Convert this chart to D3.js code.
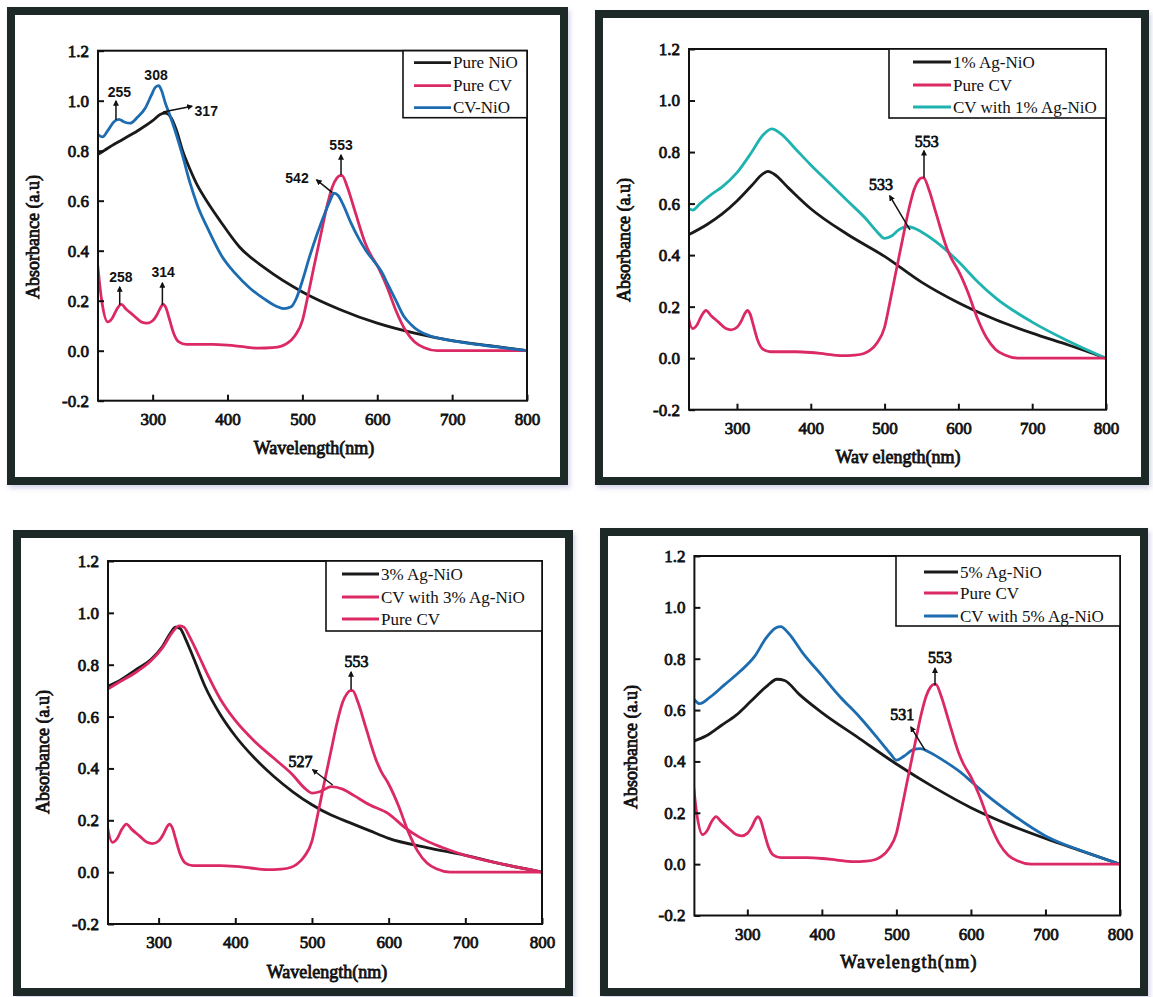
<!DOCTYPE html>
<html>
<head>
<meta charset="utf-8">
<script src="https://cdn.jsdelivr.net/npm/d3@7"></script>
<style>
  html, body { margin: 0; padding: 0; background: #ffffff; }
  svg { display: block; }
</style>
</head>
<body>
<svg id="chart" width="1153" height="997"></svg>
<script>
// ---- UV-Vis absorbance spectra (wavelength in nm, absorbance in a.u.) ----

// Crystal violet dye alone (shown in every panel)
const pureCVWavelength = [226, 232, 240, 246, 252, 258, 265, 275, 285, 292, 300, 306, 311, 314, 318, 322, 328, 335, 345, 360, 380, 400, 420, 441, 460, 472, 480, 490, 500, 506, 515, 525, 533, 540, 546, 550, 553, 560, 570, 584, 590, 600, 613, 625, 638, 650, 663, 680, 720, 760, 800];
const pureCVAbsorbance = [0.36, 0.20, 0.115, 0.13, 0.165, 0.185, 0.165, 0.14, 0.115, 0.11, 0.12, 0.145, 0.175, 0.185, 0.17, 0.13, 0.07, 0.035, 0.025, 0.025, 0.025, 0.022, 0.016, 0.01, 0.012, 0.018, 0.03, 0.06, 0.12, 0.20, 0.33, 0.47, 0.58, 0.655, 0.69, 0.70, 0.70, 0.655, 0.56, 0.43, 0.39, 0.34, 0.255, 0.16, 0.08, 0.035, 0.012, 0.0, 0.0, 0.0, 0.0];

// Panel (a): pure NiO and CV adsorbed on NiO
const pureNiOWavelength = [227, 240, 260, 280, 300, 310, 317, 325, 332, 340, 350, 360, 372, 390, 416, 450, 500, 550, 600, 650, 700, 750, 800];
const pureNiOAbsorbance = [0.785, 0.81, 0.845, 0.88, 0.92, 0.945, 0.95, 0.93, 0.88, 0.80, 0.725, 0.66, 0.60, 0.52, 0.415, 0.33, 0.235, 0.165, 0.11, 0.07, 0.04, 0.02, 0.0];
const cvNiOWavelength = [227, 233, 240, 248, 255, 262, 270, 280, 290, 298, 304, 308, 312, 317, 322, 330, 340, 350, 360, 375, 392, 410, 430, 450, 465, 475, 485, 492, 500, 510, 520, 530, 537, 542, 548, 555, 565, 575, 585, 595, 605, 615, 625, 635, 645, 655, 670, 690, 720, 760, 800];
const cvNiOAbsorbance = [0.865, 0.855, 0.88, 0.915, 0.925, 0.915, 0.91, 0.935, 0.97, 1.02, 1.055, 1.06, 1.04, 0.99, 0.95, 0.88, 0.78, 0.67, 0.58, 0.48, 0.38, 0.31, 0.25, 0.205, 0.178, 0.168, 0.176, 0.21, 0.28, 0.38, 0.47, 0.55, 0.60, 0.63, 0.62, 0.58, 0.51, 0.45, 0.40, 0.36, 0.32, 0.26, 0.20, 0.14, 0.105, 0.08, 0.06, 0.045, 0.03, 0.015, 0.0];

// Panel (b): 1% Ag-NiO
const agNiO1Wavelength = [235, 260, 280, 300, 320, 335, 342, 350, 370, 400, 450, 500, 550, 600, 650, 700, 750, 800];
const agNiO1Absorbance = [0.48, 0.52, 0.56, 0.61, 0.67, 0.715, 0.725, 0.715, 0.66, 0.58, 0.48, 0.395, 0.295, 0.215, 0.15, 0.097, 0.05, 0.0];
const cvAgNiO1Wavelength = [235, 240, 250, 265, 280, 300, 320, 335, 347, 360, 380, 400, 425, 450, 475, 490, 500, 510, 520, 530, 540, 550, 575, 600, 625, 650, 700, 750, 800];
const cvAgNiO1Absorbance = [0.58, 0.575, 0.60, 0.635, 0.665, 0.72, 0.80, 0.865, 0.89, 0.87, 0.81, 0.75, 0.68, 0.61, 0.54, 0.49, 0.465, 0.475, 0.50, 0.51, 0.505, 0.49, 0.44, 0.375, 0.30, 0.235, 0.14, 0.065, 0.0];

// Panel (c): 3% Ag-NiO
const agNiO3Wavelength = [233, 250, 270, 290, 305, 315, 322, 328, 335, 345, 360, 380, 400, 425, 450, 475, 500, 525, 550, 575, 600, 650, 700, 750, 800];
const agNiO3Absorbance = [0.715, 0.74, 0.78, 0.82, 0.87, 0.92, 0.945, 0.94, 0.90, 0.83, 0.72, 0.61, 0.525, 0.44, 0.37, 0.31, 0.26, 0.22, 0.19, 0.16, 0.13, 0.095, 0.065, 0.03, 0.0];
const cvAgNiO3Wavelength = [233, 250, 270, 290, 305, 318, 327, 333, 340, 350, 365, 380, 400, 425, 450, 475, 490, 500, 510, 525, 540, 555, 575, 600, 620, 640, 670, 700, 750, 800];
const cvAgNiO3Absorbance = [0.705, 0.735, 0.77, 0.815, 0.865, 0.925, 0.95, 0.945, 0.91, 0.85, 0.755, 0.67, 0.585, 0.505, 0.44, 0.375, 0.325, 0.305, 0.31, 0.33, 0.32, 0.295, 0.26, 0.225, 0.175, 0.135, 0.095, 0.065, 0.03, 0.0];

// Panel (d): 5% Ag-NiO
const agNiO5Wavelength = [229, 245, 265, 285, 305, 325, 340, 350, 370, 400, 450, 500, 550, 600, 650, 700, 750, 800];
const agNiO5Absorbance = [0.48, 0.50, 0.54, 0.58, 0.635, 0.69, 0.72, 0.715, 0.66, 0.59, 0.49, 0.39, 0.30, 0.22, 0.155, 0.10, 0.05, 0.0];
const cvAgNiO5Wavelength = [229, 236, 250, 270, 290, 310, 325, 338, 345, 355, 375, 400, 425, 450, 475, 492, 500, 510, 522, 532, 545, 565, 585, 605, 625, 650, 700, 750, 800];
const cvAgNiO5Absorbance = [0.64, 0.625, 0.65, 0.70, 0.75, 0.81, 0.88, 0.92, 0.925, 0.90, 0.82, 0.735, 0.65, 0.575, 0.49, 0.43, 0.405, 0.42, 0.445, 0.45, 0.435, 0.40, 0.36, 0.31, 0.26, 0.205, 0.11, 0.05, 0.0];

// Axis ticks
const wavelengthTicks = [300, 400, 500, 600, 700, 800];
const absorbanceTicks = [-0.2, 0.0, 0.2, 0.4, 0.6, 0.8, 1.0, 1.2];

// Colours
const BLACK = "#1a1a1a";
const PINK = "#db2a63";
const BLUE = "#1d6cb0";
const TEAL = "#1fb3b0";
const FRAME = "#1d2926";

const zip = (xs, ys) => xs.map((x, i) => [x, ys[i]]);

const panels = [
  {
    frame: [7, 7, 568, 485],
    plot: { left: 98, right: 527, top: 50.7, bottom: 400.7 },
    xStart: 227,
    series: [
      { name: "Pure NiO", color: BLACK, data: zip(pureNiOWavelength, pureNiOAbsorbance) },
      { name: "Pure CV", color: PINK, data: zip(pureCVWavelength, pureCVAbsorbance) },
      { name: "CV-NiO", color: BLUE, data: zip(cvNiOWavelength, cvNiOAbsorbance) }
    ],
    drawOrder: [0, 1, 2],
    legend: { width: 124, height: 67, lineX0: 11, lineX1: 48, textX: 50, rows: [12, 35, 57] },
    yLabel: { x: 33, y: 237 },
    xLabel: { x: 314, y: 454, text: "Wavelength(nm)", spacing: 0 },
    noteFont: "'Liberation Sans', Arial, sans-serif",
    noteBold: true,
    notes: [
      { text: "308", at: [304.5, 1.083] },
      { text: "255", at: [255.7, 1.015], arrow: [[251, 0.923], [251, 0.999]] },
      { text: "317", at: [356, 0.938], anchor: "start", arrow: [[313.8, 0.955], [352.5, 0.978]] },
      { text: "553", at: [551.6, 0.803], arrow: [[551.6, 0.703], [551.6, 0.783]] },
      { text: "542", at: [492.8, 0.671], arrow: [[540, 0.632], [519, 0.683]] },
      { text: "258", at: [257.7, 0.275], arrow: [[256, 0.183], [256, 0.255]] },
      { text: "314", at: [314, 0.295], arrow: [[313, 0.183], [313, 0.271]] }
    ]
  },
  {
    frame: [595, 10, 1149, 485],
    plot: { left: 689, right: 1106, top: 49, bottom: 409.7 },
    xStart: 235,
    series: [
      { name: "1% Ag-NiO", color: BLACK, data: zip(agNiO1Wavelength, agNiO1Absorbance) },
      { name: "Pure CV", color: PINK, data: zip(pureCVWavelength, pureCVAbsorbance) },
      { name: "CV with 1% Ag-NiO", color: TEAL, data: zip(cvAgNiO1Wavelength, cvAgNiO1Absorbance) }
    ],
    drawOrder: [0, 2, 1],
    legend: { width: 217, height: 69, lineX0: 24, lineX1: 62, textX: 64, rows: [13, 36, 58] },
    yLabel: { x: 624, y: 240 },
    xLabel: { x: 898, y: 463, text: "Wav elength(nm)", spacing: 0 },
    noteFont: "'Liberation Serif', 'Times New Roman', serif",
    noteBold: false,
    notes: [
      { text: "553", at: [557, 0.82], arrow: [[553.4, 0.70], [553.4, 0.805]] },
      { text: "533", at: [495, 0.654], arrow: [[534.4, 0.498], [507, 0.63]] }
    ]
  },
  {
    frame: [13, 530, 573, 996],
    plot: { left: 108, right: 542, top: 561, bottom: 924 },
    xStart: 234,
    series: [
      { name: "3% Ag-NiO", color: BLACK, data: zip(agNiO3Wavelength, agNiO3Absorbance) },
      { name: "CV with 3% Ag-NiO", color: PINK, data: zip(cvAgNiO3Wavelength, cvAgNiO3Absorbance) },
      { name: "Pure CV", color: PINK, data: zip(pureCVWavelength, pureCVAbsorbance) }
    ],
    drawOrder: [0, 1, 2],
    legend: { width: 216, height: 70, lineX0: 16, lineX1: 53, textX: 55, rows: [13, 36, 58] },
    yLabel: { x: 42.5, y: 752 },
    xLabel: { x: 327, y: 978, text: "Wavelength(nm)", spacing: 0 },
    noteFont: "'Liberation Serif', 'Times New Roman', serif",
    noteBold: false,
    notes: [
      { text: "553", at: [558, 0.79], arrow: [[551, 0.703], [551, 0.772]] },
      { text: "527", at: [485, 0.405], arrow: [[527, 0.336], [501, 0.395]] }
    ]
  },
  {
    frame: [600, 528, 1148, 996],
    plot: { left: 694.4, right: 1120, top: 556, bottom: 915.5 },
    xStart: 229,
    series: [
      { name: "5% Ag-NiO", color: BLACK, data: zip(agNiO5Wavelength, agNiO5Absorbance) },
      { name: "Pure CV", color: PINK, data: zip(pureCVWavelength, pureCVAbsorbance) },
      { name: "CV with 5% Ag-NiO", color: BLUE, data: zip(cvAgNiO5Wavelength, cvAgNiO5Absorbance) }
    ],
    drawOrder: [0, 2, 1],
    legend: { width: 224, height: 70, lineX0: 28, lineX1: 62, textX: 64, rows: [16, 37, 60] },
    yLabel: { x: 631, y: 747 },
    xLabel: { x: 909, y: 968, text: "Wavelength(nm)", spacing: 1.2 },
    noteFont: "'Liberation Serif', 'Times New Roman', serif",
    noteBold: false,
    notes: [
      { text: "553", at: [558.4, 0.783], arrow: [[551.8, 0.697], [551.8, 0.763]] },
      { text: "531", at: [508, 0.56], arrow: [[538.4, 0.444], [519.5, 0.534]] }
    ]
  }
];

const svg = d3.select("#chart");
const defs = svg.append("defs");

// arrowhead used by the peak annotations
defs.append("marker")
  .attr("id", "arrowhead")
  .attr("viewBox", "0 0 10 10")
  .attr("refX", 8).attr("refY", 5)
  .attr("markerWidth", 6).attr("markerHeight", 6)
  .attr("markerUnits", "userSpaceOnUse")
  .attr("orient", "auto")
  .append("path")
  .attr("d", "M0,0 L10,5 L0,10 Z")
  .attr("fill", "#111");

// soft shadow under each framed panel
const shadow = defs.append("filter").attr("id", "frameShadow")
  .attr("x", "-5%").attr("y", "-5%").attr("width", "110%").attr("height", "110%");
shadow.append("feGaussianBlur").attr("stdDeviation", 2.5);

const serif = "'Liberation Serif', 'Times New Roman', serif";

// heavy serif text: regular serif face thickened with a thin outline
function heavySerif(sel, size) {
  return sel
    .style("font-family", serif)
    .style("font-weight", "normal")
    .style("font-size", size + "px")
    .attr("fill", "#111")
    .attr("stroke", "#111")
    .attr("stroke-width", 0.8)
    .attr("paint-order", "stroke");
}

panels.forEach((p, idx) => {
  const g = svg.append("g");
  const [fx0, fy0, fx1, fy1] = p.frame;
  const fw = 8;

  // frame shadow + frame
  g.append("rect")
    .attr("x", fx0 + fw / 2 + 2).attr("y", fy0 + fw / 2 + 3)
    .attr("width", fx1 - fx0 - fw).attr("height", fy1 - fy0 - fw)
    .attr("fill", "none").attr("stroke", "#b9b6dc").attr("stroke-width", fw)
    .attr("opacity", 0.6)
    .attr("filter", "url(#frameShadow)");
  g.append("rect")
    .attr("x", fx0 + fw / 2).attr("y", fy0 + fw / 2)
    .attr("width", fx1 - fx0 - fw).attr("height", fy1 - fy0 - fw)
    .attr("fill", "#ffffff").attr("stroke", FRAME).attr("stroke-width", fw);

  const { left, right, top, bottom } = p.plot;
  const x = d3.scaleLinear().domain([p.xStart, 800]).range([left, right]);
  const y = d3.scaleLinear().domain([-0.2, 1.2]).range([bottom, top]);

  const clipId = "clip" + idx;
  defs.append("clipPath").attr("id", clipId)
    .append("rect")
    .attr("x", left).attr("y", top - 4)
    .attr("width", right - left).attr("height", bottom - top + 4);

  // spectra
  const line = d3.line()
    .x(d => x(d[0])).y(d => y(d[1]))
    .curve(d3.curveMonotoneX);
  const lines = g.append("g").attr("clip-path", `url(#${clipId})`);
  p.drawOrder.forEach(i => {
    const s = p.series[i];
    lines.append("path")
      .datum(s.data)
      .attr("d", line)
      .attr("fill", "none")
      .attr("stroke", s.color)
      .attr("stroke-width", 2.8)
      .attr("stroke-linejoin", "round")
      .attr("stroke-linecap", "round");
  });

  // axes with inward ticks
  const xAxis = d3.axisBottom(x)
    .tickValues(wavelengthTicks)
    .tickSizeInner(-6).tickSizeOuter(0).tickPadding(12)
    .tickFormat(d3.format("d"));
  const yAxis = d3.axisLeft(y)
    .tickValues(absorbanceTicks)
    .tickSizeInner(-6).tickSizeOuter(0).tickPadding(9)
    .tickFormat(d => d.toFixed(1));

  const gx = g.append("g").attr("transform", `translate(0,${bottom})`).call(xAxis);
  const gy = g.append("g").attr("transform", `translate(${left},0)`).call(yAxis);
  [gx, gy].forEach(a => {
    a.select(".domain").remove();
    a.selectAll(".tick line").attr("stroke", "#111").attr("stroke-width", 2);
    heavySerif(a.selectAll(".tick text"), 17);
  });

  // plot box
  g.append("rect")
    .attr("x", left).attr("y", top)
    .attr("width", right - left).attr("height", bottom - top)
    .attr("fill", "none").attr("stroke", "#111").attr("stroke-width", 2);

  // axis titles
  heavySerif(g.append("text"), 18)
    .attr("transform", `translate(${p.yLabel.x},${p.yLabel.y}) rotate(-90)`)
    .attr("text-anchor", "middle")
    .attr("dominant-baseline", "central")
    .text("Absorbance (a.u)");
  heavySerif(g.append("text"), 18)
    .attr("x", p.xLabel.x).attr("y", p.xLabel.y)
    .attr("text-anchor", "middle")
    .style("letter-spacing", p.xLabel.spacing + "px")
    .text(p.xLabel.text);

  // peak annotations
  p.notes.forEach(n => {
    if (n.arrow) {
      g.append("line")
        .attr("x1", x(n.arrow[0][0])).attr("y1", y(n.arrow[0][1]))
        .attr("x2", x(n.arrow[1][0])).attr("y2", y(n.arrow[1][1]))
        .attr("stroke", "#111").attr("stroke-width", 1.5)
        .attr("marker-end", "url(#arrowhead)");
    }
    const t = g.append("text")
      .attr("x", x(n.at[0])).attr("y", y(n.at[1]))
      .attr("text-anchor", n.anchor || "middle")
      .text(n.text);
    if (p.noteBold) {
      t.style("font-family", p.noteFont).style("font-weight", "bold")
        .style("font-size", "14px").attr("fill", "#111");
    } else {
      heavySerif(t, 16);
    }
  });

  // legend
  const L = p.legend;
  const lg = g.append("g").attr("transform", `translate(${right - L.width},${top})`);
  lg.append("rect")
    .attr("width", L.width).attr("height", L.height)
    .attr("fill", "#ffffff").attr("stroke", "#111").attr("stroke-width", 1.6);
  p.series.forEach((s, i) => {
    lg.append("line")
      .attr("x1", L.lineX0).attr("x2", L.lineX1)
      .attr("y1", L.rows[i]).attr("y2", L.rows[i])
      .attr("stroke", s.color).attr("stroke-width", 2.8);
    lg.append("text")
      .attr("x", L.textX).attr("y", L.rows[i])
      .attr("dominant-baseline", "central")
      .style("font-family", serif).style("font-size", "17px")
      .attr("fill", "#111")
      .text(s.name);
  });
});
</script>
</body>
</html>
